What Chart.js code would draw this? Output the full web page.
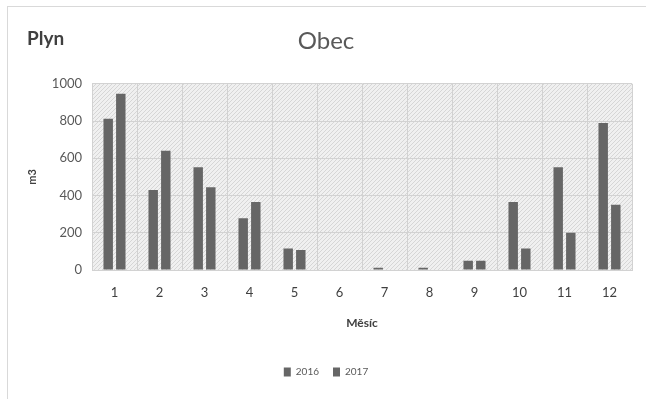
<!DOCTYPE html>
<html>
<head>
<meta charset="utf-8">
<script src="https://cdn.jsdelivr.net/npm/chart.js@4.4.1/dist/chart.umd.min.js"></script>
<style>
  html, body { margin: 0; padding: 0; background: #fff; }
  #wrap { position: relative; width: 646px; height: 401px; overflow: hidden; }
  #frame { position: absolute; left: 7px; top: 6px; width: 650px; height: 392px;
    border-top: 1px solid #d9d9d9; border-left: 1px solid #d9d9d9; }
  #plyn { position: absolute; left: 27px; top: 26px; font: bold 19px Lato, sans-serif; color: #404040; }
  canvas { position: absolute; left: 0; top: 0; }
</style>
</head>
<body>
<div id="wrap">
  <div id="frame"></div>
  <canvas id="gasChart" width="646" height="401"></canvas>
  <div id="plyn">Plyn</div>
</div>
<script>
const months = ['1', '2', '3', '4', '5', '6', '7', '8', '9', '10', '11', '12'];
const gas2016 = [812, 430, 552, 278, 115, 0, 12, 12, 50, 365, 552, 789];
const gas2017 = [946, 640, 445, 365, 108, 0, 0, 0, 50, 115, 200, 351];
const yTicksMax = 1000;
const yTickStep = 200;

const barColor = '#666666';
const textColor = '#595959';

function makeHatch() {
  const c = document.createElement('canvas');
  c.width = 4; c.height = 4;
  const g = c.getContext('2d');
  g.fillStyle = '#f0f0f0';
  g.fillRect(0, 0, 4, 4);
  g.fillStyle = '#d6d6d6';
  for (let i = 0; i < 4; i++) g.fillRect(i, 3 - i, 1, 1);
  return g.createPattern(c, 'repeat');
}

// fill the plot area with the grey hatch, like the Excel original
const plotBg = {
  id: 'plotBg',
  beforeDraw(chart) {
    const { ctx, chartArea: a } = chart;
    ctx.save();
    ctx.fillStyle = makeHatch();
    ctx.fillRect(a.left, a.top, a.right - a.left, a.bottom - a.top);
    ctx.restore();
  }
};

const ctx = document.getElementById('gasChart').getContext('2d');
new Chart(ctx, {
  type: 'bar',
  data: {
    labels: months,
    datasets: [
      { label: '2016', data: gas2016, backgroundColor: barColor },
      { label: '2017', data: gas2017, backgroundColor: barColor }
    ]
  },
  options: {
    responsive: false,
    animation: false,
    layout: { padding: { top: 6, left: 20, right: 14, bottom: 14 } },
    datasets: { bar: { categoryPercentage: 0.56, barPercentage: 0.75 } },
    plugins: {
      title: {
        display: true,
        text: 'Obec',
        color: textColor,
        font: { family: 'Lato', size: 24, weight: 'normal' },
        padding: { top: 21, bottom: 28 }
      },
      legend: {
        position: 'bottom',
        labels: {
          color: textColor,
          font: { family: 'Lato', size: 10 },
          boxWidth: 7,
          boxHeight: 9,
          padding: 14
        }
      },
      tooltip: { enabled: false }
    },
    scales: {
      x: {
        grid: { color: '#d2d2d2', drawTicks: false },
        border: { color: '#d2d2d2' },
        ticks: { color: '#404040', font: { family: 'Lato', size: 13 }, padding: 15 },
        title: { display: true, text: 'Měsíc', color: '#404040',
          font: { family: 'Lato', size: 12, weight: 'bold' }, padding: { top: 0, bottom: 23 } }
      },
      y: {
        min: 0,
        max: yTicksMax,
        grid: { color: '#d2d2d2', drawTicks: false },
        border: { color: '#d2d2d2' },
        ticks: { stepSize: yTickStep, color: textColor, font: { family: 'Lato', size: 13 }, padding: 10,
          callback: v => String(v) },
        title: { display: true, text: 'm3', color: '#404040',
          font: { family: 'Lato', size: 11, weight: 'bold' }, padding: { top: 6, bottom: 0 } },
        afterFit(scale) { scale.width = 72; }
      }
    }
  },
  plugins: [plotBg]
});
</script>
</body>
</html>
